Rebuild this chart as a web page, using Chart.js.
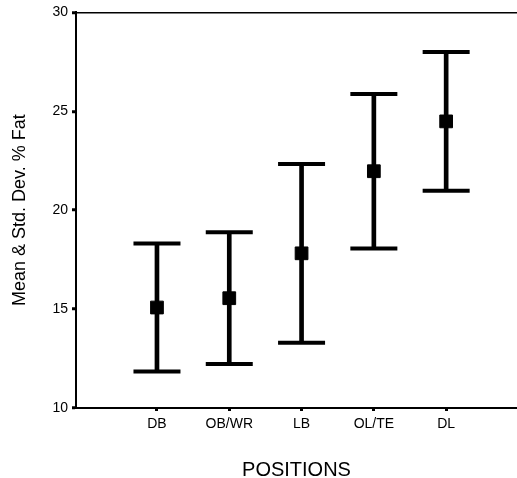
<!DOCTYPE html>
<html>
<head>
<meta charset="utf-8">
<script src="https://cdn.jsdelivr.net/npm/chart.js@4/dist/chart.umd.min.js"></script>
<style>
  body { margin: 0; background: #fff; }
  #wrap { width: 517px; height: 478px; }
</style>
</head>
<body>
<div id="wrap"><canvas id="fatChart" width="517" height="478"></canvas></div>
<script>
// data
const positions = ["DB", "OB/WR", "LB", "OL/TE", "DL"];
const means = [15.08, 15.55, 17.82, 21.97, 24.49];
const sds = [3.24, 3.33, 4.52, 3.91, 3.51];
const yTicks = [10, 15, 20, 25, 30];

const FONT = "'Liberation Sans', Arial, sans-serif";

// whiskers as floating bars, caps and means as points
const barData = positions.map((p, i) => ({ x: i + 1, y: [means[i] - sds[i], means[i] + sds[i]] }));
const capData = [];
positions.forEach((p, i) => {
    capData.push({ x: i + 1, y: means[i] + sds[i] });
    capData.push({ x: i + 1, y: means[i] - sds[i] });
});
const meanData = positions.map((p, i) => ({ x: i + 1, y: means[i] }));

const ctx = document.getElementById("fatChart").getContext("2d");

new Chart(ctx, {
    type: "bar",
    data: {
        datasets: [
            {
                type: "bar",
                data: barData,
                backgroundColor: "#000",
                barThickness: 4,
                order: 2,
            },
            {
                type: "scatter",
                data: capData,
                pointStyle: "line",
                pointRadius: 23.5,
                borderColor: "#000",
                borderWidth: 4,
                order: 1,
            },
            {
                type: "scatter",
                data: meanData,
                pointStyle: "rect",
                pointRadius: 9,
                backgroundColor: "#000",
                borderColor: "#000",
                borderWidth: 1,
                order: 0,
            },
        ],
    },
    options: {
        responsive: false,
        animation: false,
        layout: { autoPadding: false, padding: { top: 12, right: 0, left: 0, bottom: 0 } },
        plugins: {
            legend: { display: false },
            tooltip: { enabled: false },
        },
        scales: {
            x: {
                type: "linear",
                min: -0.12,
                max: 5.98,
                offset: false,
                afterBuildTicks: (scale) => {
                    scale.ticks = positions.map((p, i) => ({ value: i + 1 }));
                },
                afterFit: (scale) => { scale.height = 70; },
                grid: {
                    offset: false,
                    color: "rgba(0,0,0,0)",
                    tickColor: "#000",
                    tickLength: 3,
                    tickWidth: 3,
                },
                border: { display: true, color: "#000", width: 2 },
                ticks: {
                    autoSkip: false,
                    maxRotation: 0,
                    padding: 5,
                    color: "#000",
                    font: { family: FONT, size: 14 },
                    callback: (v) => positions[v - 1] || "",
                },
                title: {
                    display: true,
                    text: "POSITIONS",
                    color: "#000",
                    font: { family: FONT, size: 20, lineHeight: 0.8 },
                    padding: { top: 0, bottom: 0 },
                },
            },
            y: {
                min: 10,
                max: 30,
                afterBuildTicks: (scale) => {
                    scale.ticks = yTicks.map((v) => ({ value: v }));
                },
                afterFit: (scale) => { scale.width = 76; },
                grid: {
                    color: (c) => (c.tick && c.tick.value === 30 ? "#000" : "rgba(0,0,0,0)"),
                    lineWidth: 1.5,
                    tickColor: "#000",
                    tickLength: 4,
                    tickWidth: 3,
                },
                border: { display: true, color: "#000", width: 2 },
                ticks: {
                    padding: 4,
                    color: "#000",
                    font: { family: FONT, size: 14 },
                },
                title: {
                    display: true,
                    text: "Mean & Std. Dev. % Fat",
                    color: "#000",
                    font: { family: FONT, size: 18 },
                    padding: { top: 9, bottom: 0 },
                },
            },
        },
    },
});
</script>
</body>
</html>
